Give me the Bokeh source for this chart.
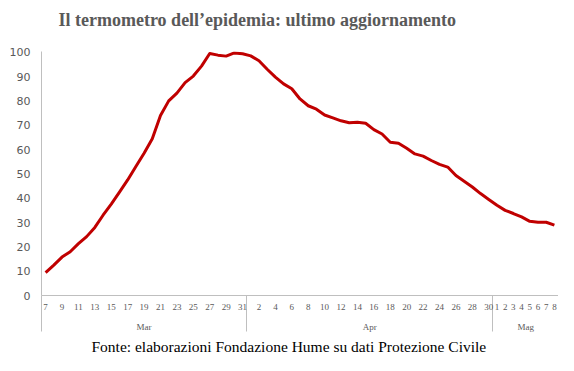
import numpy as np
from bokeh.plotting import figure
from bokeh.models import Range1d, LinearAxis, FixedTicker, Title
from bokeh.embed import file_html
from bokeh.resources import INLINE

# ---- data ----
months = ["Mar", "Apr", "Mag"]
days_mar = list(range(7, 32))
days_apr = list(range(1, 31))
days_mag = list(range(1, 9))

values_mar = [9.4, 12.5, 15.8, 18.0, 21.3, 24.2, 28.0, 33.0, 37.6, 42.5,
              47.5, 53.0, 58.5, 64.4, 74.0, 80.0, 83.2, 87.5, 90.2, 94.3,
              99.5, 98.8, 98.4, 99.7, 99.4]
values_apr = [98.5, 96.5, 93.0, 89.8, 87.0, 85.0, 80.8, 78.0, 76.6, 74.2,
              73.0, 71.8, 71.0, 71.2, 70.8, 68.2, 66.4, 63.0, 62.6, 60.5,
              58.2, 57.3, 55.5, 53.9, 52.8, 49.3, 47.0, 44.6, 41.9, 39.5]
values_mag = [37.1, 35.0, 33.7, 32.3, 30.5, 30.1, 30.1, 28.9]

labeled_mar = list(range(7, 32, 2))
labeled_apr = list(range(2, 31, 2))
labeled_mag = list(range(1, 9))

y_ticks = list(range(0, 101, 10))

title_text = "Il termometro dell\u2019epidemia: ultimo aggiornamento"
source_text = "Fonte: elaborazioni Fondazione Hume su dati Protezione Civile"

# ---- derived positions ----
month_days = [days_mar, days_apr, days_mag]
month_labeled = [labeled_mar, labeled_apr, labeled_mag]
values = values_mar + values_apr + values_mag
n = len(values)
x = np.arange(n)

tick_pos = []
tick_over = {}
month_centers = []
month_over = {}
bounds = [-0.5]
start = 0
for m, days, lab in zip(months, month_days, month_labeled):
    for k, d in enumerate(days):
        if d in lab:
            tick_pos.append(start + k)
            tick_over[start + k] = str(d)
    c = start + (len(days) - 1) / 2
    month_centers.append(c)
    month_over[c] = m
    start += len(days)
    bounds.append(start - 0.5)

GREY = "#595959"
LINE_GREY = "#bfbfbf"

p = figure(width=558, height=355, output_backend="svg", toolbar_location=None,
           x_range=Range1d(-0.5, n - 0.5), y_range=Range1d(0, 100.3),
           x_axis_location=None, y_axis_location="left",
           min_border_left=41, min_border_right=0,
           min_border_top=51, min_border_bottom=59)
p.outline_line_color = None
p.xgrid.visible = False
p.ygrid.visible = False

p.title.text = title_text
p.title.align = "left"
p.title.offset = 17
p.title.standoff = 10
p.title.text_font = "Liberation Serif"
p.title.text_font_style = "bold"
p.title.text_font_size = "18px"
p.title.text_color = GREY

# blank spacer panel between the title and the plot area
spacer = LinearAxis(ticker=FixedTicker(ticks=[0], minor_ticks=[]))
spacer.axis_line_color = None
spacer.major_tick_line_color = "white"
spacer.minor_tick_line_color = None
spacer.major_tick_out = 17
spacer.major_tick_in = 0
spacer.minor_tick_out = 0
spacer.minor_tick_in = 0
spacer.major_label_standoff = 0
spacer.major_label_text_color = None
p.add_layout(spacer, "above")

ya = p.yaxis[0]
ya.ticker = FixedTicker(ticks=y_ticks)
ya.axis_line_color = LINE_GREY
ya.major_tick_line_color = None
ya.minor_tick_line_color = None
ya.major_tick_out = 0
ya.major_tick_in = 0
ya.major_label_text_font = "DejaVu Sans"
ya.major_label_text_font_size = "11px"
ya.major_label_text_color = GREY
ya.major_label_standoff = 11

day_axis = LinearAxis(ticker=FixedTicker(ticks=tick_pos, minor_ticks=bounds),
                      major_label_overrides=tick_over)
day_axis.axis_line_color = LINE_GREY
day_axis.major_tick_line_color = None
day_axis.major_tick_out = 0
day_axis.major_tick_in = 0
day_axis.minor_tick_line_color = LINE_GREY
day_axis.minor_tick_in = 0
day_axis.minor_tick_out = 36
day_axis.major_label_text_font = "Liberation Serif"
day_axis.major_label_text_font_size = "9px"
day_axis.major_label_text_color = GREY
day_axis.major_label_standoff = -28
p.add_layout(day_axis, "below")

month_axis = LinearAxis(ticker=FixedTicker(ticks=month_centers, minor_ticks=[]),
                        major_label_overrides=month_over)
month_axis.axis_line_color = None
month_axis.major_tick_line_color = None
month_axis.minor_tick_line_color = None
month_axis.major_tick_out = 0
month_axis.major_tick_in = 0
month_axis.major_label_text_font = "Liberation Serif"
month_axis.major_label_text_font_size = "9px"
month_axis.major_label_text_color = GREY
month_axis.major_label_standoff = 9
p.add_layout(month_axis, "below")

p.add_layout(Title(text=source_text, align="left", offset=50, standoff=2,
                   text_font="Liberation Serif", text_font_size="15.5px",
                   text_font_style="normal", text_color="black"), "below")

p.line(x, values, line_color="#c00000", line_width=3, line_join="round")

open("out.html", "w").write(file_html(p, INLINE))
